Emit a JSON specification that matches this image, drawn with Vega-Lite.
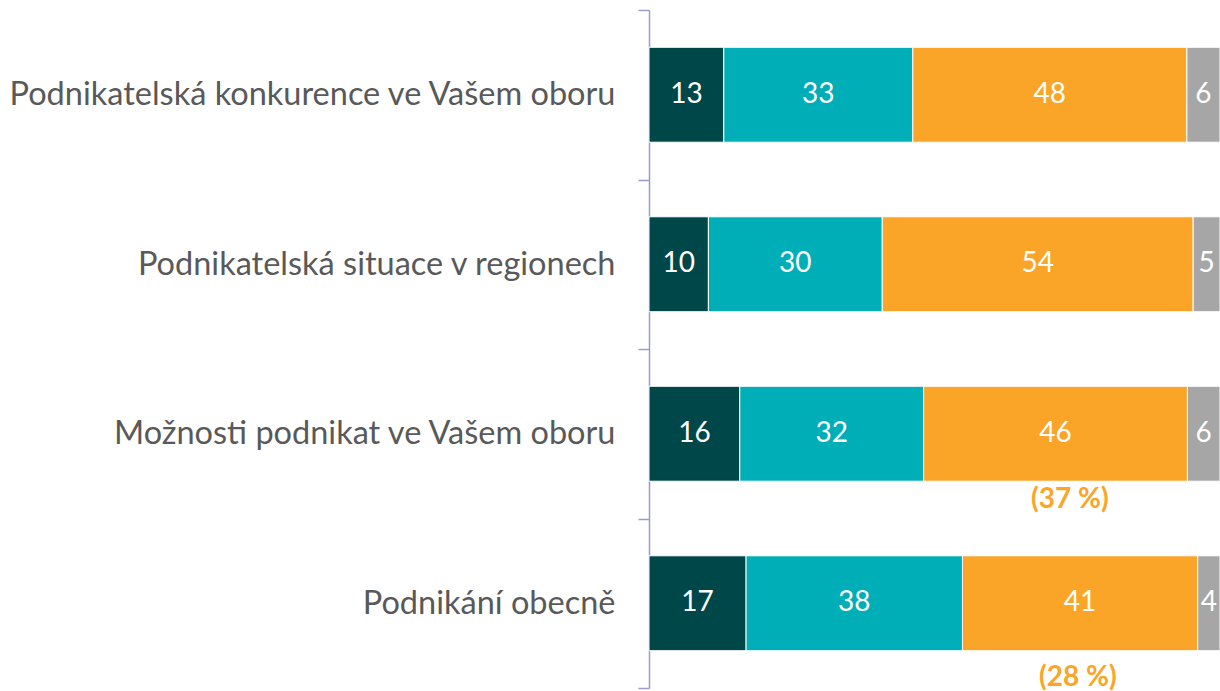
{
  "$schema": "https://vega.github.io/schema/vega-lite/v6.json",
  "autosize": "none",
  "padding": {"left": 649, "top": 10, "right": 0, "bottom": 3},
  "width": 571,
  "height": 678,
  "background": "white",
  "config": {"view": {"stroke": null}},
  "datasets": {
    "bars": [
      {"item": "Podnikatelská konkurence ve Vašem oboru", "answer": "a", "k": 1, "value": 13.1},
      {"item": "Podnikatelská konkurence ve Vašem oboru", "answer": "b", "k": 2, "value": 33.1},
      {"item": "Podnikatelská konkurence ve Vašem oboru", "answer": "c", "k": 3, "value": 48.0},
      {"item": "Podnikatelská konkurence ve Vašem oboru", "answer": "d", "k": 4, "value": 5.8},
      {"item": "Podnikatelská situace v regionech", "answer": "a", "k": 1, "value": 10.4},
      {"item": "Podnikatelská situace v regionech", "answer": "b", "k": 2, "value": 30.45},
      {"item": "Podnikatelská situace v regionech", "answer": "c", "k": 3, "value": 54.45},
      {"item": "Podnikatelská situace v regionech", "answer": "d", "k": 4, "value": 4.7},
      {"item": "Možnosti podnikat ve Vašem oboru", "answer": "a", "k": 1, "value": 15.9},
      {"item": "Možnosti podnikat ve Vašem oboru", "answer": "b", "k": 2, "value": 32.2},
      {"item": "Možnosti podnikat ve Vašem oboru", "answer": "c", "k": 3, "value": 46.2},
      {"item": "Možnosti podnikat ve Vašem oboru", "answer": "d", "k": 4, "value": 5.7},
      {"item": "Podnikání obecně", "answer": "a", "k": 1, "value": 17},
      {"item": "Podnikání obecně", "answer": "b", "k": 2, "value": 37.9},
      {"item": "Podnikání obecně", "answer": "c", "k": 3, "value": 41.2},
      {"item": "Podnikání obecně", "answer": "d", "k": 4, "value": 3.9}
    ],
    "notes": [
      {"item": "Možnosti podnikat ve Vašem oboru", "pos": 73.7, "note": "(37 %)", "n": 1},
      {"item": "Podnikání obecně", "pos": 75.1, "note": "(28 %)", "n": 2}
    ]
  },
  "encoding": {
    "y": {
      "field": "item",
      "type": "nominal",
      "sort": ["Podnikatelská konkurence ve Vašem oboru", "Podnikatelská situace v regionech", "Možnosti podnikat ve Vašem oboru", "Podnikání obecně"],
      "scale": {"paddingInner": 0, "paddingOuter": 0},
      "axis": {
        "title": null,
        "tickBand": "extent",
        "tickSize": 11,
        "tickColor": "#9b9bcc",
        "tickWidth": 1.5,
        "domainColor": "#9b9bcc",
        "domainWidth": 1.5,
        "labelPadding": 23,
        "labelFont": "Lato",
        "labelFontSize": 32.5,
        "labelColor": "#595959",
        "labelLimit": 700
      }
    }
  },
  "layer": [
    {
      "data": {"name": "bars"},
      "mark": {"type": "bar", "height": {"band": 0.56}, "stroke": "white", "strokeWidth": 1},
      "encoding": {
        "x": {"field": "value", "type": "quantitative", "stack": "zero", "scale": {"domain": [0, 100], "nice": false}, "axis": null},
        "color": {
          "field": "answer", "type": "nominal",
          "scale": {"domain": ["a", "b", "c", "d"], "range": ["#00474a", "#00aeb7", "#faa428", "#a6a6a6"]},
          "legend": null
        },
        "order": {"field": "k", "type": "quantitative"}
      }
    },
    {
      "data": {"name": "bars"},
      "transform": [
        {"stack": "value", "groupby": ["item"], "sort": [{"field": "k", "order": "ascending"}], "as": ["v0", "v1"]},
        {"calculate": "(datum.v0 + datum.v1) / 2", "as": "mid"}
      ],
      "mark": {"type": "text", "font": "Lato", "fontSize": 28, "color": "white", "baseline": "middle", "align": "center"},
      "encoding": {
        "x": {"field": "mid", "type": "quantitative"},
        "text": {"field": "value", "type": "quantitative", "format": ".0f"}
      }
    },
    {
      "data": {"name": "notes"},
      "transform": [{"filter": "datum.n == 1"}],
      "mark": {"type": "text", "font": "Lato", "fontSize": 28, "fontWeight": "bold", "color": "#faa428", "baseline": "middle", "align": "center", "dy": 66},
      "encoding": {
        "x": {"field": "pos", "type": "quantitative"},
        "text": {"field": "note"}
      }
    },
    {
      "data": {"name": "notes"},
      "transform": [{"filter": "datum.n == 2"}],
      "mark": {"type": "text", "font": "Lato", "fontSize": 28, "fontWeight": "bold", "color": "#faa428", "baseline": "middle", "align": "center", "dy": 75},
      "encoding": {
        "x": {"field": "pos", "type": "quantitative"},
        "text": {"field": "note"}
      }
    }
  ]
}
